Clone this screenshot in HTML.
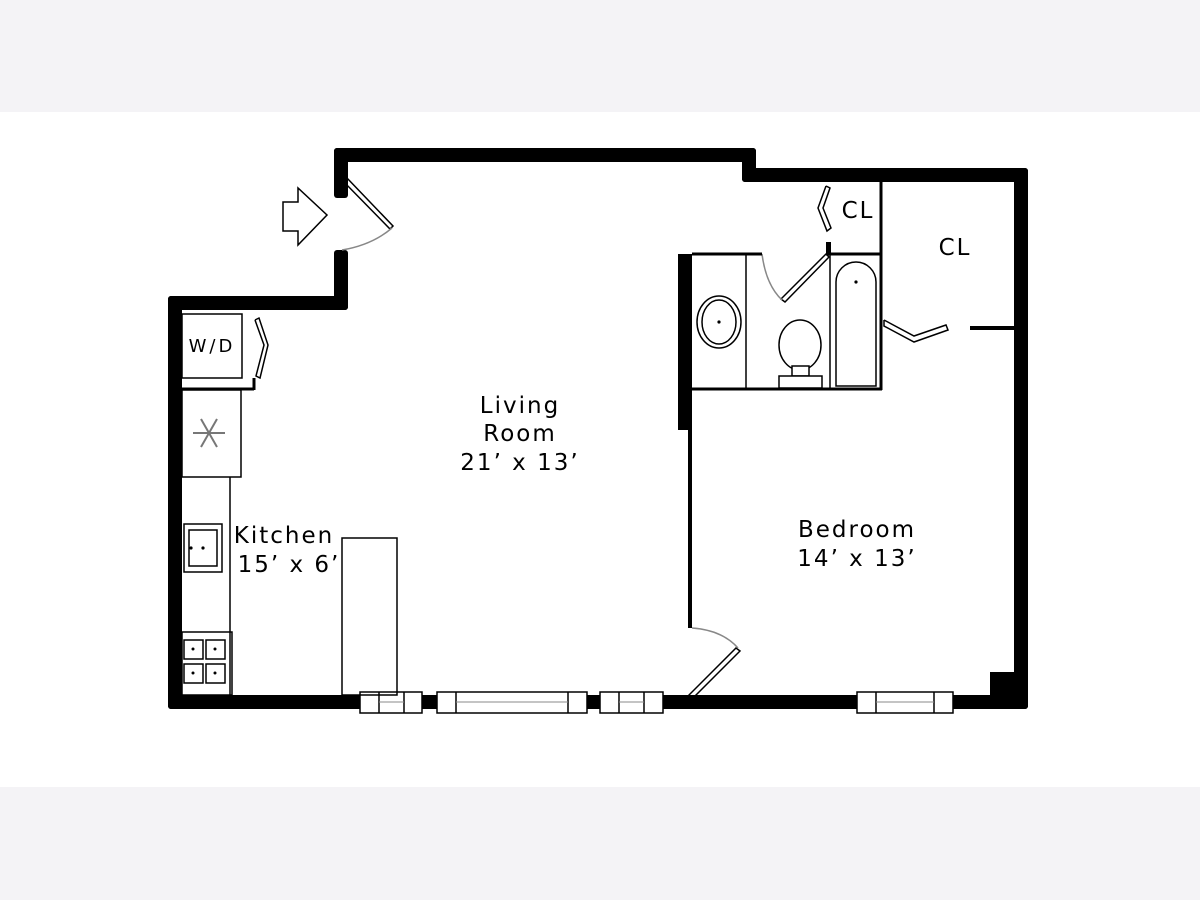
<!DOCTYPE html>
<html><head><meta charset="utf-8"><style>
html,body{margin:0;padding:0;background:#fff}
body{width:1200px;height:900px;position:relative;overflow:hidden}
</style></head><body>
<svg width="1200" height="900" viewBox="0 0 1200 900" xmlns="http://www.w3.org/2000/svg" font-family="DejaVu Sans, Liberation Sans, sans-serif">
<rect x="0" y="0" width="1200" height="112" fill="#f4f3f6"/>
<rect x="0" y="787" width="1200" height="113" fill="#f4f3f6"/>
<g fill="#000">
<rect x="168" y="296" width="14" height="413" rx="3"/>
<rect x="168" y="296" width="180" height="14" rx="3"/>
<rect x="334" y="250" width="14" height="60" rx="3"/>
<rect x="334" y="148" width="14" height="50" rx="3"/>
<rect x="334" y="148" width="422" height="14" rx="3"/>
<rect x="742" y="148" width="14" height="34" rx="3"/>
<rect x="742" y="168" width="286" height="14" rx="3"/>
<rect x="1014" y="168" width="14" height="541" rx="3"/>
<rect x="168" y="695" width="860" height="14" rx="3"/>
<rect x="990" y="672" width="30" height="30"/>
<rect x="678" y="254" width="14" height="176"/>
<rect x="688" y="430" width="4" height="198"/>
<rect x="970" y="326" width="46" height="4"/>
<rect x="826" y="242" width="5" height="13"/>
</g>
<g fill="#fff" stroke="#000" stroke-width="1.5">
<rect x="360" y="692" width="62" height="21"/><rect x="437" y="692" width="150" height="21"/>
<rect x="600" y="692" width="63" height="21"/><rect x="857" y="692" width="96" height="21"/>
</g>
<g stroke="#000" stroke-width="1.5">
<line x1="379" y1="692" x2="379" y2="713"/><line x1="404" y1="692" x2="404" y2="713"/>
<line x1="456" y1="692" x2="456" y2="713"/><line x1="568" y1="692" x2="568" y2="713"/>
<line x1="619" y1="692" x2="619" y2="713"/><line x1="644" y1="692" x2="644" y2="713"/>
<line x1="876" y1="692" x2="876" y2="713"/><line x1="934" y1="692" x2="934" y2="713"/>
</g>
<g stroke="#888" stroke-width="1"><line x1="379" y1="702" x2="404" y2="702"/><line x1="456" y1="702" x2="568" y2="702"/><line x1="619" y1="702" x2="644" y2="702"/><line x1="876" y1="702" x2="934" y2="702"/></g>
<polygon points="283,202 298,202 298,188 327,215 298,245 298,231 283,231" fill="#fff" stroke="#000" stroke-width="1.5"/>
<g fill="none" stroke="#000" stroke-width="1.5">
<polygon points="342,180 346,177 393,226 390,229"/>
<polygon points="736,648 740,651 693,698 689,695"/>
<polygon points="826,254 829,257 785,302 781,299"/>
<polyline points="826,186 830,188 823,208 831,228 827,231 818,208 826,186"/>
<polyline points="255,320 259,318 268,345 260,378 256,376 264,345 255,320"/>
<polyline points="884,320 884,326 914,342 948,330 946,325 914,336 884,320"/>
</g>
<g fill="none" stroke="#888" stroke-width="1.5">
<path d="M392,228 Q372,245 342,250"/>
<path d="M738,648 Q722,630 692,628"/>
<path d="M762,254 Q766,285 782,300"/>
</g>
<g fill="none" stroke="#000">
<line x1="692" y1="254" x2="762" y2="254" stroke-width="3"/>
<line x1="826" y1="254" x2="882" y2="254" stroke-width="3"/>
<line x1="881" y1="182" x2="881" y2="390" stroke-width="3"/>
<line x1="692" y1="389" x2="882" y2="389" stroke-width="3"/>
<line x1="746" y1="255" x2="746" y2="389" stroke-width="1.5"/>
<line x1="830" y1="255" x2="830" y2="389" stroke-width="1.5"/>
<path d="M836,386 V282 A20,20 0 0 1 876,282 V386 Z" stroke-width="1.5"/>
<ellipse cx="719" cy="322" rx="22" ry="26" stroke-width="1.5"/>
<ellipse cx="719" cy="322" rx="17" ry="22" stroke-width="1.5"/>
<ellipse cx="800" cy="345" rx="21" ry="25" stroke-width="1.5"/>
<rect x="792" y="366" width="17" height="10" fill="#fff" stroke-width="1.5"/>
<rect x="779" y="376" width="43" height="12" fill="#fff" stroke-width="1.5"/>
</g>
<circle cx="719" cy="322" r="1.6"/><circle cx="856" cy="282" r="1.6"/>
<g fill="none" stroke="#000">
<rect x="182" y="314" width="60" height="64" stroke-width="1.5"/>
<line x1="182" y1="389" x2="254" y2="389" stroke-width="3"/>
<line x1="254" y1="378" x2="254" y2="390" stroke-width="3"/>
<rect x="182" y="390" width="59" height="87" stroke-width="1.5"/>
<line x1="230" y1="477" x2="230" y2="695" stroke-width="1.5"/>
<rect x="184" y="524" width="38" height="48" stroke-width="1.5"/>
<rect x="189" y="530" width="28" height="36" stroke-width="1.5"/>
<rect x="182" y="632" width="50" height="63" stroke-width="1.5"/>
<rect x="184" y="640" width="19" height="19" stroke-width="1.5"/><rect x="206" y="640" width="19" height="19" stroke-width="1.5"/>
<rect x="184" y="664" width="19" height="19" stroke-width="1.5"/><rect x="206" y="664" width="19" height="19" stroke-width="1.5"/>
<rect x="342" y="538" width="55" height="157" stroke-width="1.5"/>
</g>
<g fill="#000"><circle cx="193" cy="649" r="1.5"/><circle cx="215" cy="649" r="1.5"/><circle cx="193" cy="673" r="1.5"/><circle cx="215" cy="673" r="1.5"/></g>
<circle cx="191" cy="548" r="1.6"/><circle cx="203" cy="548" r="1.6"/>
<g stroke="#777" stroke-width="2" fill="none">
<line x1="193" y1="433" x2="225" y2="433"/><line x1="201" y1="419" x2="217" y2="447"/><line x1="217" y1="419" x2="201" y2="447"/>
</g>
<g font-size="23" text-anchor="middle" fill="#000" letter-spacing="2">
<text x="520" y="413">Living</text><text x="520" y="441">Room</text><text x="520" y="470">21’ x 13’</text>
<text x="857" y="537">Bedroom</text><text x="857" y="566">14’ x 13’</text>
<text x="284" y="543">Kitchen</text><text x="289" y="572">15’ x 6’</text>
<text x="858" y="218">CL</text><text x="955" y="255">CL</text>
<text x="212" y="352" font-size="18" letter-spacing="3">W/D</text>
</g>
</svg>
</body></html>
